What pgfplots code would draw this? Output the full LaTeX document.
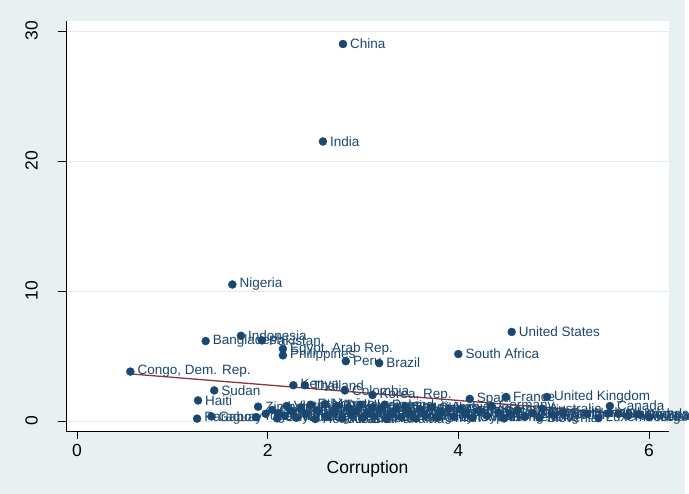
\documentclass[border=0pt]{standalone}
\usepackage{fontspec}
\setmainfont{Liberation Sans}
\usepackage{pgfplots}
\pgfplotsset{compat=1.18}

\definecolor{bgblue}{RGB}{232,240,242}
\definecolor{gridc}{RGB}{226,234,237}
\definecolor{stnavy}{RGB}{26,71,111}
\definecolor{stmaroon}{RGB}{144,53,59}

% country, corruption score, y value
\pgfplotstableread{
x y name
2.79 29.00 China
2.58 21.50 India
1.63 10.50 Nigeria
4.56 6.85 {United States}
1.72 6.55 Indonesia
1.94 6.20 Pakistan
1.35 6.15 Bangladesh
2.16 5.55 {Egypt, Arab Rep.}
2.16 5.05 Philippines
2.82 4.60 Peru
3.17 4.45 Brazil
4.00 5.15 {South Africa}
0.56 3.80 {Congo, Dem. Rep.}
1.44 2.35 Sudan
1.27 1.58 Haiti
1.26 0.18 Paraguay
1.41 0.35 Gabon
2.27 2.75 Kenya
2.39 2.75 Thailand
2.81 2.35 Colombia
3.10 2.00 {Korea, Rep.}
4.12 1.70 Spain
4.50 1.85 France
4.93 1.85 {United Kingdom}
4.88 0.95 Australia
5.59 1.15 Canada
5.47 0.22 Luxembourg
1.90 1.10 Zimbabwe
1.88 0.30 Togo
1.98 0.55 Niger
2.05 0.85 Ghana
2.10 0.20 Guyana
2.12 0.60 Mali
2.18 0.40 Guinea
2.20 1.15 Vietnam
2.25 0.75 Uganda
2.30 0.25 Nicaragua
2.35 1.05 Ecuador
2.40 0.55 Malawi
2.45 1.25 Ethiopia
2.50 0.15 Honduras
2.52 0.80 Venezuela
2.60 1.30 Mexico
2.62 0.40 Bolivia
2.70 0.65 Guatemala
2.73 1.15 Turkey
2.78 0.20 Albania
2.85 1.00 Iran
2.88 0.45 Senegal
2.93 0.75 Algeria
2.97 1.25 Ukraine
3.00 0.25 Jamaica
3.05 0.60 Morocco
3.10 1.05 Argentina
3.12 0.35 {Sri Lanka}
3.18 0.85 Romania
3.23 1.25 Poland
3.25 0.15 Panama
3.30 0.55 Tunisia
3.35 0.95 Malaysia
3.40 0.30 Bulgaria
3.45 1.10 {Saudi Arabia}
3.48 0.70 {Costa Rica}
3.55 0.20 Uruguay
3.60 0.90 Hungary
3.65 0.45 Jordan
3.72 1.05 Chile
3.78 0.25 Oman
3.82 0.65 {Czech Rep.}
3.90 0.95 Israel
3.95 0.35 Botswana
4.02 0.90 Greece
4.08 0.55 Portugal
4.15 0.25 Cyprus
4.22 0.80 Italy
4.30 0.40 Malta
4.35 1.15 Germany
4.42 0.65 Belgium
4.48 0.20 {Hong Kong}
4.55 0.50 Singapore
4.62 0.85 Austria
4.70 0.35 Ireland
4.78 0.60 Estonia
4.85 0.25 Slovenia
5.00 0.45 Sweden
5.10 0.65 Switzerland
5.35 0.55 Norway
5.58 0.60 Netherlands
5.68 0.55 Finland
5.78 0.40 {New Zealand}
5.90 0.50 Denmark
6.00 0.30 Iceland
}\countries

\begin{document}
\begin{tikzpicture}[x=1bp,y=1bp]
\fill[bgblue] (0,0) rectangle (685,494);
\useasboundingbox (0,0) rectangle (689,494);
\begin{axis}[
  at={(66bp,63bp)}, anchor=south west,
  scale only axis, width=603bp, height=410bp,
  xmin=-0.115, xmax=6.21, ymin=-0.77, ymax=30.77,
  axis background/.style={fill=white},
  axis x line*=bottom, axis y line*=left,
  axis line style={black, line width=0.8bp, -},
  xtick={0,2,4,6}, ytick={0,10,20,30},
  tick align=outside, major tick length=8bp,
  tick style={black, line width=0.8bp},
  ymajorgrids, grid style={gridc, line width=0.8bp},
  /pgf/number format/assume math mode=true,
  tick label style={font=\fontsize{17.5bp}{20bp}\selectfont},
  xticklabel style={inner sep=0pt, anchor=north, yshift=-5bp},
  yticklabel style={inner sep=0pt, anchor=south, xshift=-20bp, rotate=90},
  xlabel={Corruption},
  xlabel style={font=\fontsize{17.5bp}{20bp}\selectfont, at={(axis description cs:0.5,0)}, anchor=north, yshift=-30bp, inner sep=0pt},
  clip=false,
]
\addplot[only marks, mark=*, mark size=4bp, color=stnavy,
  mark options={fill=stnavy, draw=stnavy},
  point meta=explicit symbolic,
  nodes near coords,
  every node near coord/.append style={anchor=west, inner sep=0pt, xshift=7bp,
    font=\fontsize{13.5bp}{15bp}\selectfont, text=stnavy}]
  table[x=x, y=y, meta=name] {\countries};
% linear fit
\addplot[stmaroon, line width=1.3bp, no marks] coordinates {(0.565,3.62) (5.99,0.40)};
\end{axis}
\end{tikzpicture}
\end{document}
